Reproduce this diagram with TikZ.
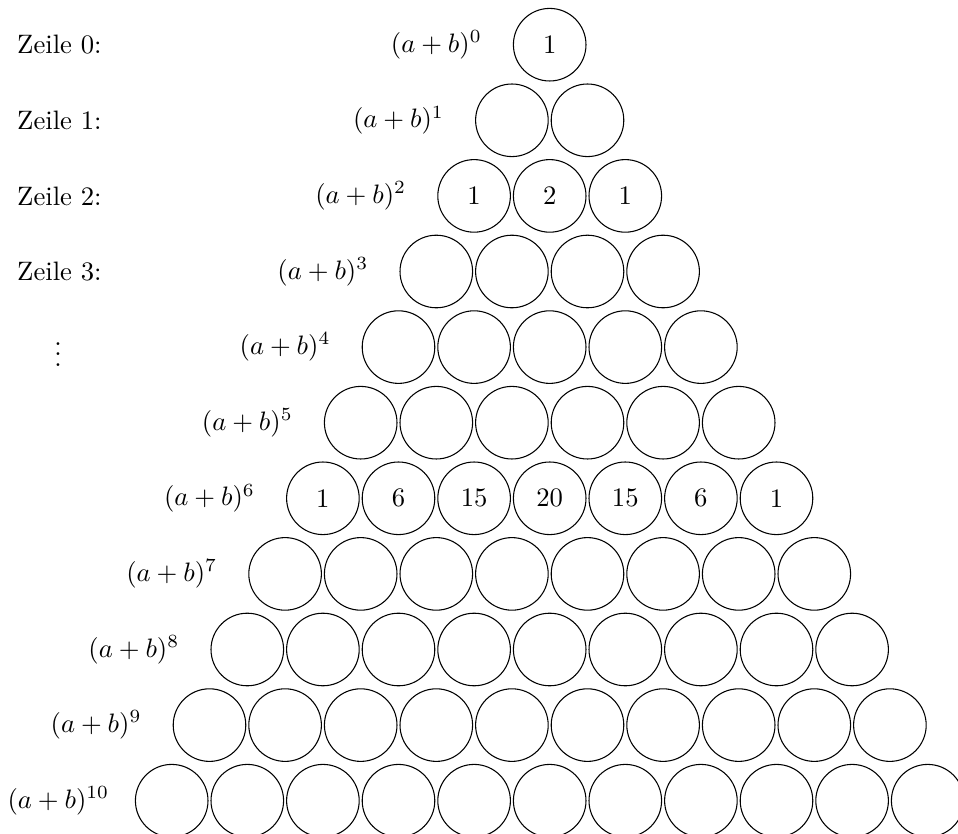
\documentclass[tikz,border=0pt]{standalone}
\begin{document}
\begin{tikzpicture}[x=0.375pt,y=-0.375pt,
  cell/.style={draw,circle,inner sep=0pt,minimum size=27.22pt,line width=0.4pt},
  powlabel/.style={inner sep=0pt,anchor=center},
  zeile/.style={inner sep=0pt,anchor=west},
  num/.style={inner sep=0pt}]
\useasboundingbox (0,0) rectangle (958,834);
\foreach \n in {0,...,10}{
  \foreach \k in {0,...,\n}{
    \node[cell] (c-\n-\k) at ({549.7+75.6*(\k-\n/2)},{44.7+75.6*\n}) {};
  }
  \node[powlabel] (p-\n) at ({549.7-75.6*(\n/2+1.5)},{44.7+75.6*\n}) {$(a+b)^{\n}$};
}
\node[num] (t-0-0) at (c-0-0) {1};
\node[num] (t-2-0) at (c-2-0) {1};
\node[num] (t-2-1) at (c-2-1) {2};
\node[num] (t-2-2) at (c-2-2) {1};
\node[num] (t-6-0) at (c-6-0) {1};
\node[num] (t-6-1) at (c-6-1) {6};
\node[num] (t-6-2) at (c-6-2) {15};
\node[num] (t-6-3) at (c-6-3) {20};
\node[num] (t-6-4) at (c-6-4) {15};
\node[num] (t-6-5) at (c-6-5) {6};
\node[num] (t-6-6) at (c-6-6) {1};
\node[zeile] (z0) at (16.7,44.7) {Zeile 0:};
\node[zeile] (z1) at (16.7,120.3) {Zeile 1:};
\node[zeile] (z2) at (16.7,195.9) {Zeile 2:};
\node[zeile] (z3) at (16.7,271.5) {Zeile 3:};
\node[inner sep=0pt,anchor=base] (vd) at (58,366.5) {$\vdots$};
\end{tikzpicture}
\end{document}
